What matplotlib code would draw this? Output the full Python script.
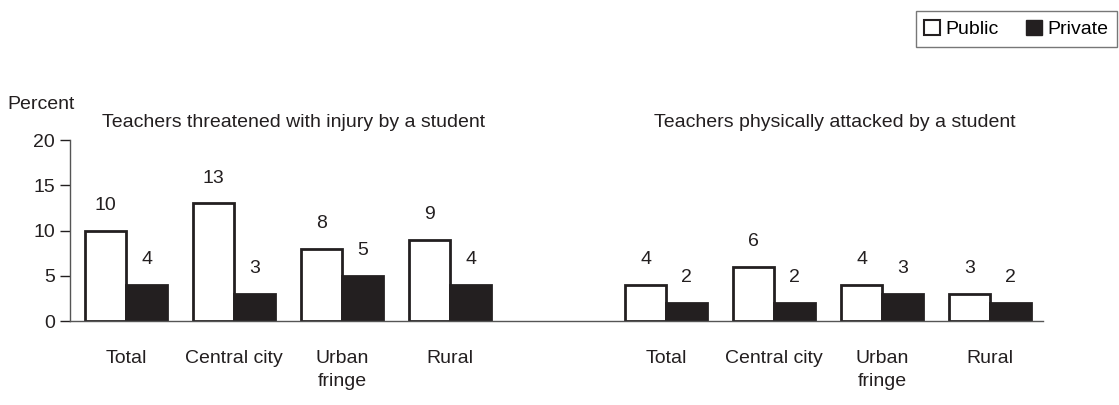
import numpy as np
import matplotlib.pyplot as plt
from matplotlib.patches import Patch

plt.rcParams['font.family'] = ['Liberation Sans', 'DejaVu Sans']

categories = ['Total', 'Central city', 'Urban\nfringe', 'Rural']
threatened_public = [10, 13, 8, 9]
threatened_private = [4, 3, 5, 4]
attacked_public = [4, 6, 4, 3]
attacked_private = [2, 2, 3, 2]

ink = '#231f20'
fs = 14

fig = plt.figure(figsize=(11.19, 4.05), dpi=100)
ax = fig.add_axes([0.0626, 0.207, 0.8695, 0.447])

left_pos = np.arange(4)
right_pos = np.arange(4) + 5
w = 0.38

for pos, pub, priv in [(left_pos, threatened_public, threatened_private),
                       (right_pos, attacked_public, attacked_private)]:
    b1 = ax.bar(pos - w / 2, pub, w, color='white', edgecolor=ink, linewidth=2)
    b2 = ax.bar(pos + w / 2, priv, w, color=ink, edgecolor=ink, linewidth=2)
    for bars in (b1, b2):
        for b in bars:
            ax.annotate(str(int(b.get_height())),
                        (b.get_x() + b.get_width() / 2, b.get_height()),
                        xytext=(0, 12), textcoords='offset points',
                        ha='center', va='bottom', fontsize=fs, color=ink)

ax.set_xlim(-0.52, 8.49)
ax.set_ylim(0, 20)
ax.set_yticks([0, 5, 10, 15, 20])
ax.set_xticks(np.concatenate([left_pos, right_pos]))
ax.set_xticklabels(categories + categories, fontsize=fs, color=ink, va='top',
                   linespacing=1.45)
ax.tick_params(axis='x', length=0, pad=21)
ax.tick_params(axis='y', length=7, width=1, labelsize=fs, colors=ink, pad=4, direction='out')
for s in ['top', 'right']:
    ax.spines[s].set_visible(False)
for s in ['left', 'bottom']:
    ax.spines[s].set_color('#555555')
    ax.spines[s].set_linewidth(1)

ax.text(1.55, 22.0, 'Teachers threatened with injury by a student', ha='center',
        va='center', fontsize=fs, color=ink)
ax.text(6.56, 22.0, 'Teachers physically attacked by a student', ha='center',
        va='center', fontsize=fs, color=ink)
fig.text(0.007, 0.743, 'Percent', ha='left', va='center', fontsize=fs, color=ink)

handles = [Patch(facecolor='white', edgecolor=ink, linewidth=1.5, label='Public'),
           Patch(facecolor=ink, edgecolor=ink, label='Private')]
leg = fig.legend(handles=handles, loc='upper right', bbox_to_anchor=(0.9985, 0.973),
                 ncol=2, fontsize=fs, frameon=True, fancybox=False, handlelength=0.8,
                 handleheight=0.8, handletextpad=0.3, columnspacing=1.4,
                 borderpad=0.45, borderaxespad=0)
leg.get_frame().set_edgecolor('#555555')
leg.get_frame().set_linewidth(1)

fig.savefig('out.png', dpi=100)
